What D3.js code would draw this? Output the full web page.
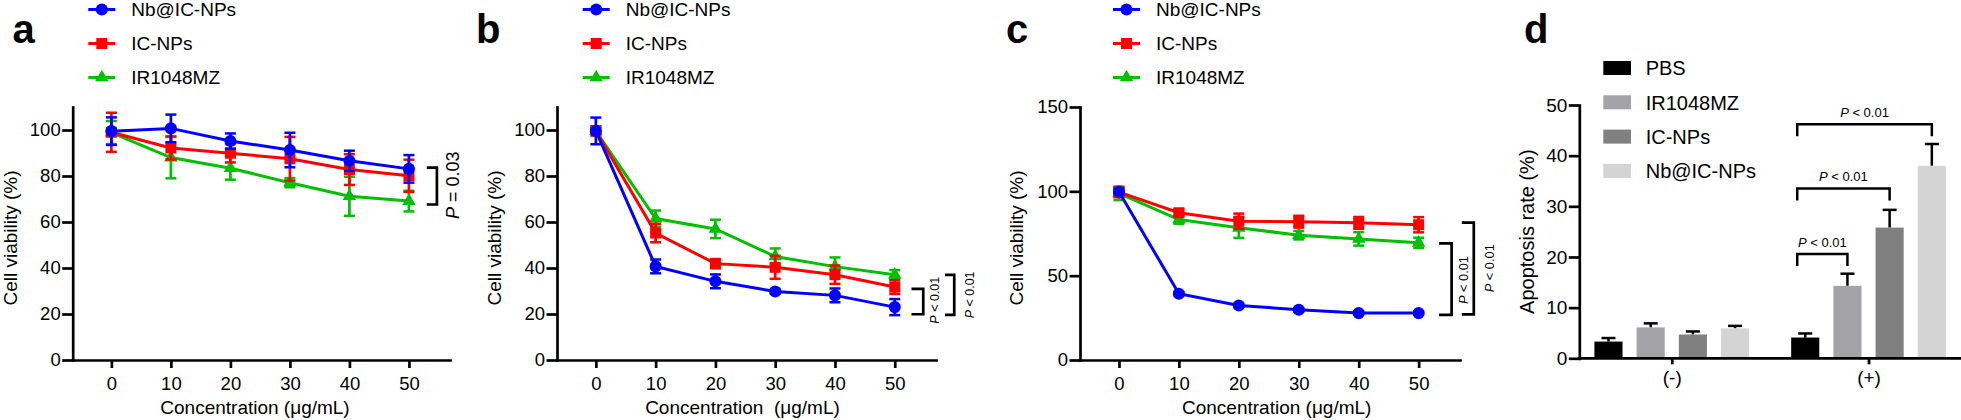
<!DOCTYPE html>
<html><head><meta charset="utf-8">
<script src="https://cdn.jsdelivr.net/npm/d3@7"></script>
<style>
body{margin:0;background:#fff}
svg{display:block}
text{font-family:Arial,"Liberation Sans",Helvetica,sans-serif;fill:#000}
</style>
</head><body>
<svg id="chart" width="1961" height="420"></svg>
<script>
// ---------- DATA ----------
const concentrations = [0, 10, 20, 30, 40, 50];
const lineSeries = ["Nb@IC-NPs", "IC-NPs", "IR1048MZ"];
const lineColors = ["#0000ff", "#ff0000", "#00c000"];
const lineSymbols = ["circle", "square", "triangle"];

// panel a
const aNb    = [99.5, 100.7, 95.2, 91.3, 86.6, 83.1];
const aNbErr = [6.0, 6.0, 3.3, 7.5, 4.4, 6.0];
const aIC    = [99.0, 92.2, 89.9, 87.5, 82.8, 80.1];
const aICErr = [8.5, 5.0, 4.0, 9.5, 6.7, 7.0];
const aIR    = [98.9, 88.0, 83.4, 77.1, 71.2, 69.1];
const aIRErr = [5.0, 9.0, 5.0, 2.0, 8.5, 4.5];

// panel b
const bNb    = [99.6, 40.7, 34.2, 29.8, 28.1, 23.0];
const bNbErr = [5.8, 3.0, 3.0, 1.0, 3.0, 3.5];
const bIC    = [99.6, 55.2, 41.9, 40.3, 37.1, 31.7];
const bICErr = [2.0, 4.0, 2.0, 5.0, 4.0, 3.0];
const bIR    = [99.5, 61.5, 57.0, 45.0, 40.6, 37.1];
const bIRErr = [1.5, 3.5, 4.0, 3.5, 4.0, 2.0];

// panel c
const cNb    = [99.8, 39.3, 32.3, 29.8, 27.8, 27.8];
const cNbErr = [1.5, 1.0, 1.0, 1.0, 1.0, 1.0];
const cIC    = [99.5, 87.3, 82.3, 82.0, 81.3, 80.2];
const cICErr = [3.0, 2.0, 4.5, 3.5, 3.5, 4.5];
const cIR    = [98.8, 83.3, 78.4, 74.0, 71.8, 69.5];
const cIRErr = [4.0, 2.5, 6.0, 2.5, 4.0, 3.0];

const yTicksAB = [0, 20, 40, 60, 80, 100];
const yTicksC  = [0, 50, 100, 150];

// panel d
const barGroups  = ["(-)", "(+)"];
const barSeries  = ["PBS", "IR1048MZ", "IC-NPs", "Nb@IC-NPs"];
const barColors  = ["#000000", "#a4a4a8", "#808080", "#d4d4d4"];
const dMinus     = [3.3, 6.1, 4.7, 5.9];
const dMinusErr  = [0.7, 0.8, 0.6, 0.5];
const dPlus      = [4.1, 14.3, 25.8, 38.0];
const dPlusErr   = [0.8, 2.4, 3.5, 4.3];
const dTicks     = [0, 10, 20, 30, 40, 50];

// ---------- DRAW ----------
const svg = d3.select("#chart");
const AXW = 2.7;

function styleAxis(g){
  g.selectAll("path.domain").attr("stroke","#000").attr("stroke-width",AXW).attr("stroke-linecap","square");
  g.selectAll(".tick line").attr("stroke","#000").attr("stroke-width",AXW);
  g.selectAll(".tick text").attr("font-size","18.5px").attr("fill","#000")
    .style("font-family","Arial, 'Liberation Sans', sans-serif");
}

function symbolOf(name){
  if(name==="circle") return d3.symbol().type(d3.symbolCircle).size(115)();
  if(name==="square") return d3.symbol().type(d3.symbolSquare).size(121)();
  return d3.symbol().type(d3.symbolTriangle).size(78)();
}

function pLabel(g, x, y, size, rest, rotate){
  const t = g.append("text").attr("font-size", size+"px")
    .attr("text-anchor","middle")
    .attr("transform", rotate ? `translate(${x},${y}) rotate(-90)` : `translate(${x},${y})`);
  t.append("tspan").attr("font-style","italic").text("P");
  t.append("tspan").style("white-space","pre").text(rest);
}

function linePanel(cfg){
  const g = svg.append("g");
  const x = d3.scaleLinear().domain([-6.5, 56.9]).range(cfg.xRange);
  const y = d3.scaleLinear().domain(cfg.yDomain).range([360, 107]);

  // axes
  const ya = g.append("g").attr("transform",`translate(${cfg.xRange[0]},0)`)
    .call(d3.axisLeft(y).tickValues(cfg.yTicks).tickSize(10.5).tickSizeOuter(0).tickPadding(1.5));
  styleAxis(ya);
  const xa = g.append("g").attr("transform",`translate(0,${y(0)})`)
    .call(d3.axisBottom(x).tickValues(concentrations).tickSize(8).tickSizeOuter(0).tickPadding(8.5));
  styleAxis(xa);

  // series (draw Nb last so it sits on top)
  const order = [2,1,0];
  order.forEach(i=>{
    const vals = cfg.values[i], errs = cfg.errors[i], col = lineColors[i];
    const pts = concentrations.map((c,k)=>({c, v:vals[k], e:errs[k]}));
    const sg = g.append("g");
    sg.append("path").datum(pts)
      .attr("d", d3.line().x(d=>x(d.c)).y(d=>y(d.v)))
      .attr("fill","none").attr("stroke",col).attr("stroke-width",3);
    const eb = sg.selectAll(".eb").data(pts).enter().append("g");
    eb.append("line").attr("x1",d=>x(d.c)).attr("x2",d=>x(d.c))
      .attr("y1",d=>y(d.v+d.e)).attr("y2",d=>y(d.v-d.e))
      .attr("stroke",col).attr("stroke-width",2.7);
    [1,-1].forEach(s=>{
      eb.append("line").attr("x1",d=>x(d.c)-5.5).attr("x2",d=>x(d.c)+5.5)
        .attr("y1",d=>y(d.v+s*d.e)).attr("y2",d=>y(d.v+s*d.e))
        .attr("stroke",col).attr("stroke-width",2.5);
    });
    sg.selectAll(".mk").data(pts).enter().append("path")
      .attr("d", symbolOf(lineSymbols[i]))
      .attr("transform",d=>`translate(${x(d.c)},${y(d.v)})`)
      .attr("fill",col);
  });

  // legend
  lineSeries.forEach((name,i)=>{
    const cy = 9.5 + i*34;
    const lg = g.append("g");
    lg.append("line").attr("x1",cfg.legX).attr("x2",cfg.legX+27).attr("y1",cy).attr("y2",cy)
      .attr("stroke",lineColors[i]).attr("stroke-width",3);
    lg.append("path").attr("d",symbolOf(lineSymbols[i]))
      .attr("transform",`translate(${cfg.legX+13.5},${cy})`).attr("fill",lineColors[i]);
    lg.append("text").attr("x",cfg.legX+43).attr("y",cy+6.8).attr("font-size","19px").text(name);
  });

  // letter
  g.append("text").attr("x",cfg.letterX).attr("y",43).attr("font-size","40px")
    .attr("font-weight","bold").text(cfg.letter);

  // titles
  g.append("text").attr("text-anchor","middle").attr("font-size","19px")
    .attr("transform",`translate(${cfg.yTitleX},238) rotate(-90)`).text("Cell viability (%)");
  g.append("text").attr("text-anchor","middle").attr("font-size","19px")
    .style("white-space","pre")
    .attr("x",cfg.xTitleX).attr("y",413.5).text(cfg.xTitle);

  // significance brackets
  cfg.brackets.forEach(b=>{
    const xv = x(b.x), xa2 = x(b.arm);
    g.append("path")
      .attr("d",`M${xa2},${y(b.y1)}H${xv}V${y(b.y2)}H${xa2}`)
      .attr("fill","none").attr("stroke","#000").attr("stroke-width",2.7);
    pLabel(g, x(b.tx), y(b.ty), b.size, b.label, true);
  });
}

linePanel({
  xRange:[72.7, 450], yDomain:[0,110], yTicks:yTicksAB,
  values:[aNb,aIC,aIR], errors:[aNbErr,aICErr,aIRErr],
  legX:88.3, letter:"a", letterX:12.5, yTitleX:16.5, xTitleX:255,
  xTitle:"Concentration (μg/mL)",
  brackets:[{x:54.7, arm:53.0, y1:83.6, y2:67.6, tx:58.4, ty:76, size:18, label:" = 0.03"}]
});
linePanel({
  xRange:[557, 936], yDomain:[0,110], yTicks:yTicksAB,
  values:[bNb,bIC,bIR], errors:[bNbErr,bICErr,bIRErr],
  legX:582.7, letter:"b", letterX:476, yTitleX:501, xTitleX:742.5,
  xTitle:"Concentration  (μg/mL)",
  brackets:[
    {x:54.77, arm:52.8, y1:30.9, y2:19.9, tx:57.4, ty:26, size:12.5, label:" < 0.01"},
    {x:59.95, arm:58.4, y1:37.0, y2:19.6, tx:63.3, ty:28.3, size:12.5, label:" < 0.01"}
  ]
});
linePanel({
  xRange:[1080, 1460], yDomain:[0,150], yTicks:yTicksC,
  values:[cNb,cIC,cIR], errors:[cNbErr,cICErr,cIRErr],
  legX:1113, letter:"c", letterX:1006, yTitleX:1023, xTitleX:1276.7,
  xTitle:"Concentration (μg/mL)",
  brackets:[
    {x:55.5, arm:53.4, y1:69.2, y2:26.7, tx:58.2, ty:47.4, size:12.8, label:" < 0.01"},
    {x:59.2, arm:57.2, y1:81.4, y2:27.1, tx:62.6, ty:54.4, size:12.8, label:" < 0.01"}
  ]
});

// ---------- panel d ----------
(function(){
  const g = svg.append("g");
  const L = 1579.3, R = 1961;
  const x0 = d3.scalePoint().domain(barGroups).range([L, R]).padding(0.47);
  const x1 = d3.scaleBand().domain(barSeries).range([-77.35, 77.35]).paddingInner(0.334);
  const y = d3.scaleLinear().domain([0,50]).range([358.3, 105]);

  const ya = g.append("g").attr("transform",`translate(${L},0)`)
    .call(d3.axisLeft(y).tickValues(dTicks).tickSize(10.5).tickSizeOuter(0).tickPadding(1.5));
  styleAxis(ya);
  ya.selectAll(".tick text").attr("font-size","19px");
  const xa = g.append("g").attr("transform",`translate(0,${y(0)})`)
    .call(d3.axisBottom(x0).tickSize(6).tickSizeOuter(0).tickPadding(6));
  styleAxis(xa);
  xa.selectAll(".tick text").attr("font-size","19px");
  xa.select("path.domain").attr("d",`M${L},0H${R}`);

  const groupVals = {"(-)":[dMinus,dMinusErr], "(+)":[dPlus,dPlusErr]};
  barGroups.forEach(gr=>{
    const [vals, errs] = groupVals[gr];
    barSeries.forEach((s,i)=>{
      const bx = x0(gr) + x1(s), bw = x1.bandwidth(), cx = bx + bw/2;
      g.append("line").attr("x1",cx).attr("x2",cx)
        .attr("y1",y(vals[i])).attr("y2",y(vals[i]+errs[i]))
        .attr("stroke","#000").attr("stroke-width",2.5);
      g.append("line").attr("x1",cx-7).attr("x2",cx+7)
        .attr("y1",y(vals[i]+errs[i])).attr("y2",y(vals[i]+errs[i]))
        .attr("stroke","#000").attr("stroke-width",2.5);
      g.append("rect").attr("x",bx).attr("width",bw)
        .attr("y",y(vals[i])).attr("height",y(0)-y(vals[i]))
        .attr("fill",barColors[i]);
    });
  });
  xa.raise();

  // legend
  barSeries.forEach((s,i)=>{
    const cy = 68 + i*34.3;
    g.append("rect").attr("x",1603.3).attr("y",cy-7).attr("width",27.7).attr("height",14).attr("fill",barColors[i]);
    g.append("text").attr("x",1645.7).attr("y",cy+7.3).attr("font-size","20px").text(s);
  });

  // brackets
  const brk = [
    {to:"IR1048MZ", y:20.6},
    {to:"IC-NPs", y:33.5},
    {to:"Nb@IC-NPs", y:46.2}
  ];
  brk.forEach(b=>{
    const xl = x0("(+)") + x1("PBS") + x1.bandwidth()/2 - 8;
    const xr = x0("(+)") + x1(b.to) + x1.bandwidth()/2;
    const yy = y(b.y), yl = yy + 12;
    g.append("path").attr("d",`M${xl},${yl}V${yy}H${xr}V${yl}`)
      .attr("fill","none").attr("stroke","#000").attr("stroke-width",2.5);
    pLabel(g, (xl+xr)/2, yy-7.3, 13, " < 0.01", false);
  });

  g.append("text").attr("x",1524).attr("y",43).attr("font-size","40px").attr("font-weight","bold").text("d");
  g.append("text").attr("text-anchor","middle").attr("font-size","20px")
    .attr("transform",`translate(1534,231.7) rotate(-90)`).text("Apoptosis rate (%)");
})();
</script>
</body></html>
